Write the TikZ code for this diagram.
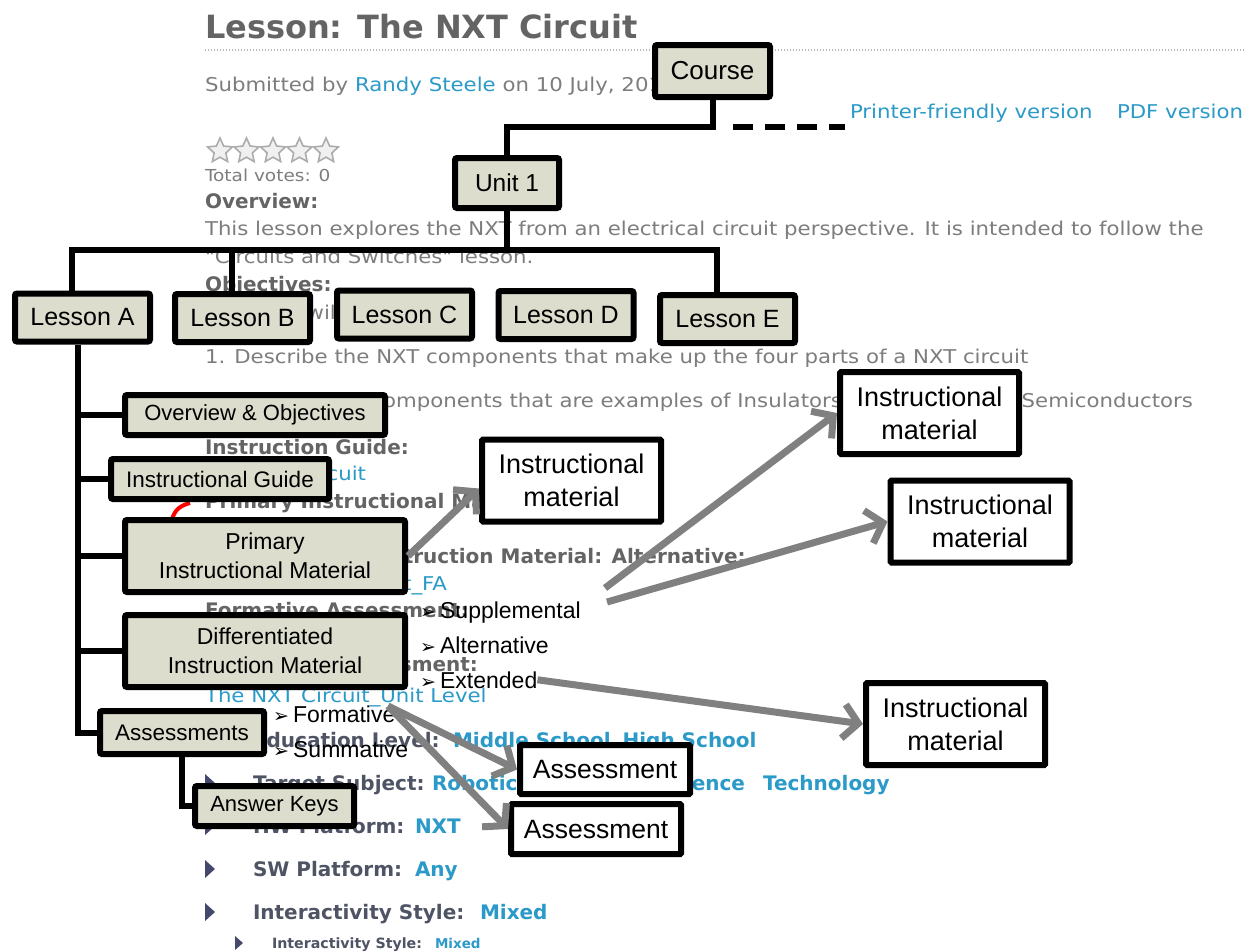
\documentclass[tikz,border=0pt]{standalone}
\usepackage{fontspec}
\setmainfont{Liberation Sans}
\newfontfamily\web{DejaVu Sans}
\usetikzlibrary{arrows.meta,shapes.geometric,calc}
\pgfdeclarelayer{bg}
\pgfdeclarelayer{connl}
\pgfsetlayers{bg,connl,main}
\definecolor{boxfill}{RGB}{220,221,205}
\definecolor{webgray}{RGB}{125,125,125}
\definecolor{webhead}{RGB}{100,100,100}
\definecolor{webdark}{RGB}{78,84,100}
\definecolor{webblue}{RGB}{43,154,200}
\definecolor{arrowgray}{RGB}{128,128,128}
\definecolor{tri}{RGB}{68,72,108}
\tikzset{
  wt/.style={anchor=base west, inner sep=0pt, outer sep=0pt, text=webgray, font=\web\fontsize{19}{22}\selectfont},
  wte/.style={wt, anchor=base east},
  wb/.style={wt, text=webhead, font=\web\bfseries\fontsize{20}{24}\selectfont},
  wbe/.style={wb, anchor=base east},
  wd/.style={wt, text=webdark, font=\web\bfseries\fontsize{20}{24}\selectfont},
  wblue/.style={wd, text=webblue},
  gbox/.style={draw=black, line width=6pt, fill=boxfill, rounded corners=2pt, inner sep=0pt, align=center},
  wbox/.style={gbox, fill=white, rounded corners=1pt, font=\fontsize{27}{33}\selectfont},
  conn/.style={draw=black, line width=6pt},
  garrow/.style={draw=arrowgray, line width=7pt, -{Straight Barb[length=15pt, width=34pt]}},
  bul/.style={anchor=base west, inner sep=0pt, font=\fontsize{23}{27}\selectfont},
  star5/.style={star, star points=5, star point ratio=2.1, minimum size=26pt, inner sep=0pt, draw=gray!65, fill=gray!12, line width=1.6pt}
}
\newcommand\bulg{{\web\fontsize{19}{22}\selectfont ➢}\hspace{4pt}}
\newcommand\wsx[1]{\scalebox{1.12}[1]{#1}}
\begin{document}
\begin{tikzpicture}[x=1pt,y=-1pt]
\begin{pgfonlayer}{bg}
\fill[white] (0,0) rectangle (1250,951);
\path[use as bounding box] (0,0) rectangle (1250,951);

% ---------- web page background ----------
\node[wt, text=webhead, font=\web\bfseries\fontsize{32}{36}\selectfont] (title) at (205,38) {Lesson: The NXT Circuit};
\draw[draw=gray!55, line width=1.2pt, dash pattern=on 1.2pt off 1.8pt] (title.south west |- 0,50) -- (1245,50);
\node[wt] (sub) at (205,91) {\wsx{Submitted by \textcolor{webblue}{Randy Steele} on 10 July, 2010}};
\node[wt, text=webblue] (pf) at (850,118) {\wsx{Printer-friendly version}};
\node[wt, text=webblue] (pdf) at (1117,118) {\wsx{PDF version}};
\foreach \i/\x in {1/220,2/246.5,3/273,4/299.5,5/326}
  \node[star5] (star\i) at (\x,151) {};
\node[wt, font=\web\fontsize{16.5}{20}\selectfont] (votes) at (205,181) {\wsx{Total votes: 0}};
\node[wb] (ovh) at (205,208) {Overview:};
\node[wt] (p1) at (205,235) {\wsx{This lesson explores the NXT from an electrical circuit perspective. It is intended to follow the}};
\node[wt] (p2) at (205,263) {\wsx{"Circuits and Switches" lesson.}};
\node[wb] (objh) at (205,291) {Objectives:};
\node[wt] (stud) at (205,319) {\wsx{Students will be able to:}};
\node[wt] (o1) at (205,363) {\wsx{1. Describe the NXT components that make up the four parts of a NXT circuit}};
\node[wt] (o2) at (205,407) {\wsx{2. Identify NXT components that are examples of Insulators,}};
\node[wte] (o2b) at (1193,407) {\wsx{Semiconductors}};
\node[wb] (igh) at (205,454) {Instruction Guide:};
\node[wte, text=webblue] (igl) at (366,480) {\wsx{The NXT Circuit}};
\node[wb] (pimh) at (205,508) {Primary Instructional Material:};
\node[wb] (dimh) at (205,563) {Differentiated Instruction Material: Alternative:};
\node[wte, text=webblue] (fal) at (447,590) {\wsx{The NXT Circuit\_FA}};
\node[wb] (fah) at (205,617) {Formative Assessment:};
\node[wbe] (sah) at (478,671) {Summative Assessment:};
\node[wt, text=webblue] (unl) at (205,702) {\wsx{The NXT Circuit\_Unit Level}};
\foreach \y in {740,783,826,869,912}
  \fill[tri] (205,\y-9) -- (215,\y) -- (205,\y+9) -- cycle;
\node[wd] (edu) at (253,747) {Education Level:};
\node[wblue] (edu2) at (453,747) {Middle School\hspace{12pt}High School};
\node[wd] (tsub) at (253,790) {Target Subject:};
\node[wblue] (ts1) at (432,790) {Robotics};
\node[wblue, anchor=base east] (ts2) at (745,790) {Science};
\node[wblue] (ts3) at (763,790) {Technology};
\node[wd] (hw) at (253,833) {HW Platform:};
\node[wblue] (hw2) at (415,833) {NXT};
\node[wd] (sw) at (253,876) {SW Platform:};
\node[wblue] (sw2) at (415,876) {Any};
\node[wd] (is) at (253,919) {Interactivity Style:};
\node[wblue] (is2) at (480,919) {Mixed};
\fill[tri] (235,936) -- (243,943) -- (235,950) -- cycle;
\node[wd, font=\web\bfseries\fontsize{14.2}{16}\selectfont] (isb) at (272,948) {Interactivity Style:};
\node[wblue, font=\web\bfseries\fontsize{13.5}{16}\selectfont] (isb2) at (435,948) {Mixed};

% red mark
\draw[red, line width=4pt] (171,524) .. controls (173,512) and (178,506) .. (190,503);
\end{pgfonlayer}

% ---------- diagram boxes ----------
\node[gbox, minimum width=115pt, minimum height=52pt, font=\fontsize{26}{30}\selectfont] (course) at (712.5,71) {Course};
\node[gbox, minimum width=104pt, minimum height=50pt, font=\fontsize{24.5}{28}\selectfont] (unit) at (507,183) {Unit 1};
\begin{scope}[every node/.append style={gbox, minimum width=135pt, minimum height=48pt, font=\fontsize{25}{30}\selectfont}]
\node (lessA) at (82.5,317.5) {Lesson A};
\node (lessB) at (242.5,318) {Lesson B};
\node (lessC) at (404.5,314.5) {Lesson C};
\node (lessD) at (566,315) {Lesson D};
\node (lessE) at (727.5,319) {Lesson E};
\end{scope}
\node[gbox, minimum width=260pt, minimum height=40pt, font=\fontsize{22}{27}\selectfont] (ovob) at (255,415) {Overview \& Objectives};
\node[gbox, minimum width=218pt, minimum height=40pt, font=\fontsize{22.5}{27}\selectfont] (ig) at (220,479) {Instructional Guide};
\node[gbox, minimum width=280pt, minimum height=72pt, font=\fontsize{23}{29}\selectfont] (prim) at (265,556) {Primary\\Instructional Material};
\node[gbox, minimum width=280pt, minimum height=72pt, font=\fontsize{23}{29}\selectfont] (diff) at (265,651) {Differentiated\\Instruction Material};
\node[gbox, minimum width=164pt, minimum height=43pt, font=\fontsize{22.5}{27}\selectfont] (assess) at (182,732.5) {Assessments};
\node[gbox, minimum width=159pt, minimum height=40pt, font=\fontsize{22}{27}\selectfont] (keys) at (274.5,806) {Answer Keys};
\begin{scope}[every node/.append style={wbox, minimum width=179pt, minimum height=82pt}]
\node (im1) at (571.5,480.5) {Instructional\\material};
\node (im2) at (929.5,413) {Instructional\\material};
\node (im3) at (980,521.5) {Instructional\\material};
\node (im4) at (955.5,724) {Instructional\\material};
\end{scope}
\node[wbox, minimum width=170pt, minimum height=49pt, font=\fontsize{26.5}{30}\selectfont] (as1) at (605,769.5) {Assessment};
\node[wbox, minimum width=170pt, minimum height=50pt, font=\fontsize{26.5}{30}\selectfont] (as2) at (596,829) {Assessment};

% ---------- connectors (drawn under the boxes) ----------
\begin{pgfonlayer}{connl}
\draw[conn] (course.south) -- ++(0,27) -| (unit.north);
\coordinate (dstart) at (733,127);
\draw[conn, dash pattern=on 20pt off 12pt] (dstart) -- ([xshift=-5pt]pf.west |- dstart);
\draw[conn] (unit.south) -- ++(0,39) coordinate (hub);
\draw[conn] ([xshift=-10.5pt]lessA.north) |- (hub) -| ([xshift=-10.5pt]lessE.north);
\draw[conn] ([xshift=-10.5pt]lessB.north) -- ([xshift=-10.5pt]lessB.north |- hub);
\coordinate (tr) at ([xshift=-4.5pt]lessA.south);
\draw[conn] (tr) |- (assess.west);
\foreach \n in {ovob,ig,prim,diff}
  \draw[conn] (tr |- \n.west) -- (\n.west);
\draw[conn] (assess.south) |- (keys.west);
\end{pgfonlayer}

% ---------- bullet lists ----------
\node[bul] (sup) at (420,618) {\bulg Supplemental};
\node[bul] (alt) at (420,653) {\bulg Alternative};
\node[bul] (ext) at (420,688) {\bulg Extended};
\node[bul] (form) at (273,722) {\bulg Formative};
\node[bul] (summ) at (273,757) {\bulg Summative};

% ---------- gray arrows ----------
\draw[garrow] (prim.east) -- ([yshift=-8pt]im1.west);
\coordinate (s1) at (605,588);
\coordinate (s2) at (607,602);
\draw[garrow] (s1) -- (im2.west);
\draw[garrow] (s2) -- (im3.west);
\draw[garrow] (ext.east) -- (im4.west);
\coordinate (fo) at (388,706);
\draw[garrow] (fo) -- (as1.west);
\draw[garrow] (fo) -- (as2.west);
\end{tikzpicture}
\end{document}
